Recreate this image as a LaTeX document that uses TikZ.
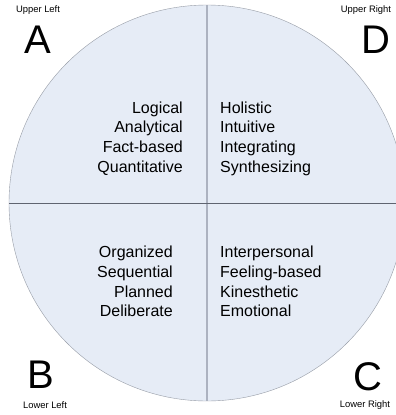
\documentclass[tikz,border=0pt]{standalone}
\usepackage{fontspec}
\setmainfont{Liberation Sans}
\usetikzlibrary{positioning}

\def\mycircleradius{198}
\definecolor{myfill}{RGB}{230,236,246}
\definecolor{myrim}{RGB}{150,155,165}
\definecolor{myhline}{RGB}{95,100,112}
\definecolor{myvline}{RGB}{172,178,192}

\tikzset{
    bigletter/.style = {font = \fontsize{40}{40}\selectfont, inner sep = 0pt},
    cornerlabel/.style = {font = \fontsize{9.4}{11}\selectfont, inner sep = 0pt},
    traitlist/.style = {font = \fontsize{16}{19.6}\selectfont, inner sep = 0pt}
}

\begin{document}
\begin{tikzpicture}[x = 1pt, y = -1pt]
\useasboundingbox (0,0) rectangle (396,415);
\clip (0,0) rectangle (396,415);
\coordinate (c) at (207,203);

% the disc
\fill [myfill] (c) circle (\mycircleradius);
\draw [myrim, thin] (c) circle (\mycircleradius);
\coordinate (top) at (207,203-\mycircleradius);
\coordinate (bot) at (207,203+\mycircleradius);
\coordinate (lft) at (207-\mycircleradius,203);
\coordinate (rgt) at (207+\mycircleradius,203);
\draw [myvline, line width = 1.2pt] (top) -- (bot); %vertical split
\draw [myhline, line width = 1pt] (lft) -- (rgt); %horizontal split

% corner letters
\node [bigletter] (A) at (37.5,40) {A};
\node [bigletter] (D) at (376,40) {D};
\node [bigletter] (B) at (41,375) {B};
\node [bigletter] (C) at (368,377) {C};
\node [cornerlabel] (ul) at (38,10) {Upper Left};
\node [cornerlabel] (ur) at (366,10) {Upper Right};
\node [cornerlabel] (ll) at (45,405) {Lower Left};
\node [cornerlabel] (lr) at (365,405) {Lower Right};

% the four quadrants
\node [traitlist, align = right, anchor = east] (qa) at (183,138.5)
    {Logical\\Analytical\\Fact-based\\Quantitative};
\node [traitlist, align = left, anchor = west] (qd) at (220,138.5)
    {Holistic\\Intuitive\\Integrating\\Synthesizing};
\node [traitlist, align = right, anchor = east] (qb) at (173,281.5)
    {Organized\\Sequential\\Planned\\Deliberate};
\node [traitlist, align = left, anchor = west] (qc) at (220,281.5)
    {Interpersonal\\Feeling-based\\Kinesthetic\\Emotional};
\end{tikzpicture}
\end{document}
